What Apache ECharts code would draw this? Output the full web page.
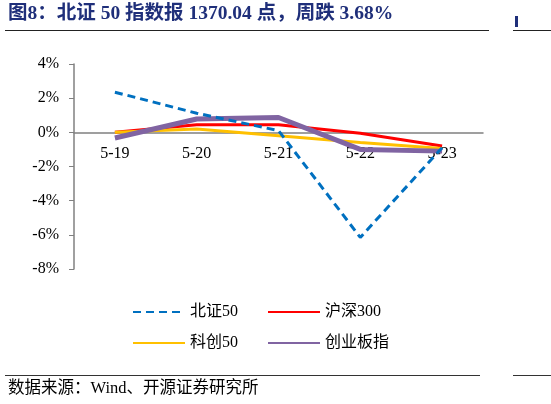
<!DOCTYPE html>
<html>
<head>
<meta charset="utf-8">
<script src="https://cdn.jsdelivr.net/npm/echarts@6/dist/echarts.min.js"></script>
<style>
  html, body { margin: 0; padding: 0; background: #fff; }
  .chart { width: 551px; height: 404px; }
</style>
</head>
<body>
<div class="chart"></div>
<script>
const chart = echarts.init(document.querySelector('.chart'))

// 数据
const dates = ['5-19', '5-20', '5-21', '5-22', '5-23']
const bz50 = [2.35, 1.12, 0.1, -6.15, -0.9]
const hs300 = [0.0, 0.45, 0.45, -0.05, -0.8]
const kc50 = [0.0, 0.2, -0.2, -0.6, -0.95]
const cybz = [-0.33, 0.78, 0.87, -1.0, -1.1]

const fontSerif = '"Liberation Serif", "Noto Sans CJK SC", serif'

const legendBase = {
  left: 127,
  itemWidth: 52,
  itemHeight: 14,
  itemGap: 29,
  itemStyle: { opacity: 0 },
  textStyle: { fontFamily: fontSerif, fontSize: 16, color: '#000' },
}

const option = {
  animation: false,
  backgroundColor: '#fff',
  grid: { left: 74, right: 68, top: 64, bottom: 135 },
  legend: [
    Object.assign({}, legendBase, { data: ['北证50', '沪深300'], top: 299 }),
    Object.assign({}, legendBase, { data: ['科创50', '创业板指'], top: 330 }),
  ],
  xAxis: {
    type: 'category',
    data: dates,
    // 轴放在0%的位置
    offset: -136.67,
    axisLine: { onZero: false, lineStyle: { color: '#808080', width: 1.5 } },
    axisTick: { inside: true, length: 5, lineStyle: { color: '#808080' } },
    axisLabel: { margin: 13, fontFamily: fontSerif, fontSize: 16, color: '#000' },
  },
  yAxis: {
    type: 'value',
    min: -8,
    max: 4,
    interval: 2,
    axisLine: { show: true, lineStyle: { color: '#808080', width: 1.5 } },
    axisTick: { show: true, length: 5, lineStyle: { color: '#808080' } },
    splitLine: { show: false },
    axisLabel: {
      formatter: '{value}%',
      margin: 15,
      fontFamily: fontSerif,
      fontSize: 16,
      color: '#000',
    },
  },
  series: [
    {
      name: '沪深300',
      type: 'line',
      data: hs300,
      symbol: 'none',
      lineStyle: { color: '#FF0000', width: 3 },
      itemStyle: { color: '#FF0000' },
    },
    {
      name: '科创50',
      type: 'line',
      data: kc50,
      symbol: 'none',
      lineStyle: { color: '#FFC000', width: 3 },
      itemStyle: { color: '#FFC000' },
    },
    {
      name: '创业板指',
      type: 'line',
      data: cybz,
      symbol: 'none',
      lineStyle: { color: '#8064A2', width: 5 },
      itemStyle: { color: '#8064A2' },
    },
    {
      name: '北证50',
      type: 'line',
      data: bz50,
      symbol: 'none',
      lineStyle: { color: '#0070C0', width: 3, type: [8, 5] },
      itemStyle: { color: '#0070C0' },
    },
  ],
  graphic: [
    {
      type: 'text',
      left: 8,
      top: 4,
      style: {
        text: '图8：北证 50 指数报 1370.04 点，周跌 3.68%',
        font: 'bold 19.5px "Liberation Serif", "Noto Sans CJK SC", serif',
        fill: '#1F2F7A',
      },
    },
    { type: 'line', shape: { x1: 5, y1: 30.5, x2: 489, y2: 30.5 }, style: { stroke: '#222', lineWidth: 1.2 } },
    { type: 'line', shape: { x1: 513, y1: 30.5, x2: 551, y2: 30.5 }, style: { stroke: '#222', lineWidth: 1.2 } },
    { type: 'rect', shape: { x: 515, y: 16, width: 3, height: 11 }, style: { fill: '#1F2F7A' } },
    { type: 'line', shape: { x1: 5, y1: 375.5, x2: 480, y2: 375.5 }, style: { stroke: '#333', lineWidth: 1 } },
    { type: 'line', shape: { x1: 513, y1: 375.5, x2: 551, y2: 375.5 }, style: { stroke: '#333', lineWidth: 1 } },
    {
      type: 'text',
      left: 8,
      top: 380,
      style: {
        text: '数据来源：Wind、开源证券研究所',
        font: '16.5px "Liberation Serif", "Noto Sans CJK SC", serif',
        fill: '#000',
      },
    },
  ],
}

chart.setOption(option)
</script>
</body>
</html>
